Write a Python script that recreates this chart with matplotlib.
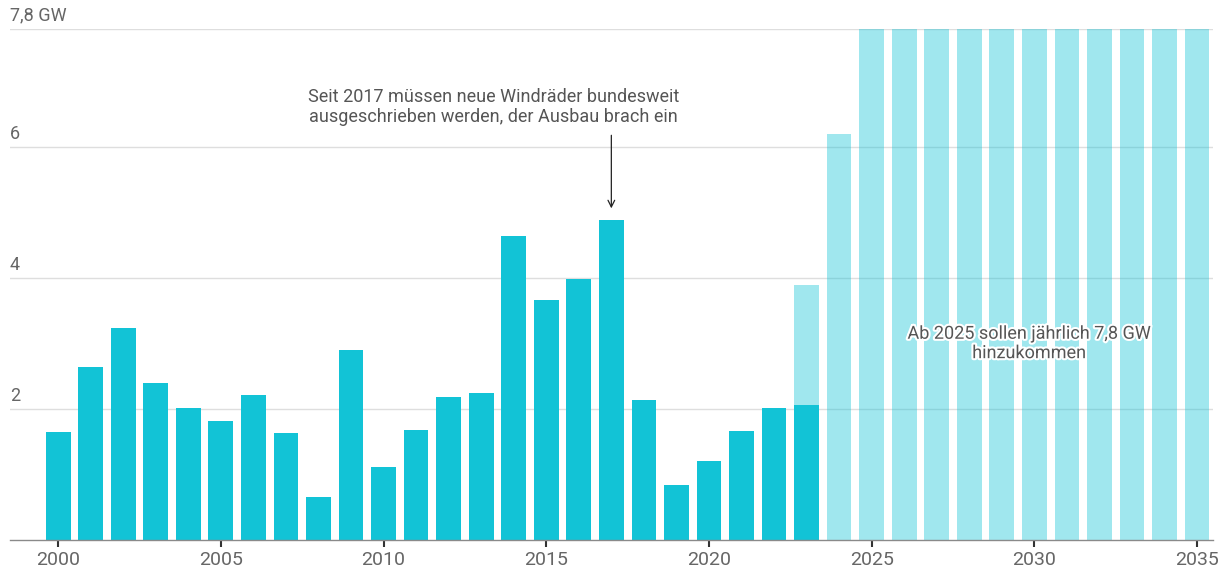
import numpy as np
import matplotlib.pyplot as plt
import matplotlib.patheffects as pe
from matplotlib.transforms import blended_transform_factory

plt.rcParams["font.family"] = ["Roboto", "DejaVu Sans"]

# Zubau Windkraft an Land, GW pro Jahr
years_actual = list(range(2000, 2024))
gw_actual = [1.65, 2.64, 3.24, 2.39, 2.02, 1.82, 2.22, 1.63, 0.66, 2.90,
             1.11, 1.68, 2.18, 2.25, 4.64, 3.67, 3.98, 4.89, 2.13, 0.84,
             1.21, 1.66, 2.02, 2.06]

# Ausbauziel
years_target = list(range(2023, 2036))
gw_target = [3.9, 6.2] + [7.8] * 11

grid_values = [2, 4, 6, 7.8]
grid_labels = ["2", "4", "6", "7,8 GW"]
xtick_years = [2000, 2005, 2010, 2015, 2020, 2025, 2030, 2035]

BAR = "#12c3d6"
GRID = "#dedede"
TEXT = "#666666"

fig = plt.figure(figsize=(12.25, 5.74), dpi=100)
ax = fig.add_axes([10 / 1225, 34 / 574, 1203 / 1225, (540 - 29) / 574])

# Gridlines
for v in grid_values:
    ax.axhline(v, color=GRID, linewidth=1, zorder=0)

ax.bar(years_target, gw_target, width=0.76, color=BAR, alpha=0.4,
       linewidth=0, zorder=1)
ax.bar(years_actual, gw_actual, width=0.76, color=BAR, linewidth=0, zorder=2)

ax.set_xlim(1998.52, 2035.49)
ax.set_ylim(0, 7.8)

# y labels sit above their gridline
trans = blended_transform_factory(ax.transAxes, ax.transData)
for v, lab in zip(grid_values, grid_labels):
    ax.annotate(lab, xy=(0, v), xycoords=trans, xytext=(0, 3),
                textcoords="offset points", ha="left", va="bottom",
                fontsize=13, color=TEXT, annotation_clip=False)
ax.set_yticks([])

ax.set_xticks(xtick_years)
ax.set_xticklabels([str(y) for y in xtick_years], fontsize=14, color=TEXT)
ax.tick_params(axis="x", length=5, width=1.5, color="#333333", pad=3)

for side in ("top", "right", "left"):
    ax.spines[side].set_visible(False)
ax.spines["bottom"].set_color("#8a8a8a")
ax.spines["bottom"].set_linewidth(1)

# Annotation 2017
ax.annotate("", xy=(2017, 5.02), xytext=(2017, 6.22),
            arrowprops=dict(arrowstyle="->", color="#222222", lw=0.9,
                            mutation_scale=12), zorder=4)
ax.text(2013.38, 6.32, "Seit 2017 müssen neue Windräder bundesweit\n"
        "ausgeschrieben werden, der Ausbau brach ein",
        ha="center", va="bottom", fontsize=13, color="#555555",
        linespacing=1.15, zorder=4)

# Target annotation
ax.text(2029.84, 3.0, "Ab 2025 sollen jährlich 7,8 GW\nhinzukommen",
        ha="center", va="center", fontsize=13, color="#555555",
        linespacing=1.1, zorder=4,
        path_effects=[pe.withStroke(linewidth=3, foreground="white")])

fig.savefig("out.png", dpi=100, facecolor="white")
